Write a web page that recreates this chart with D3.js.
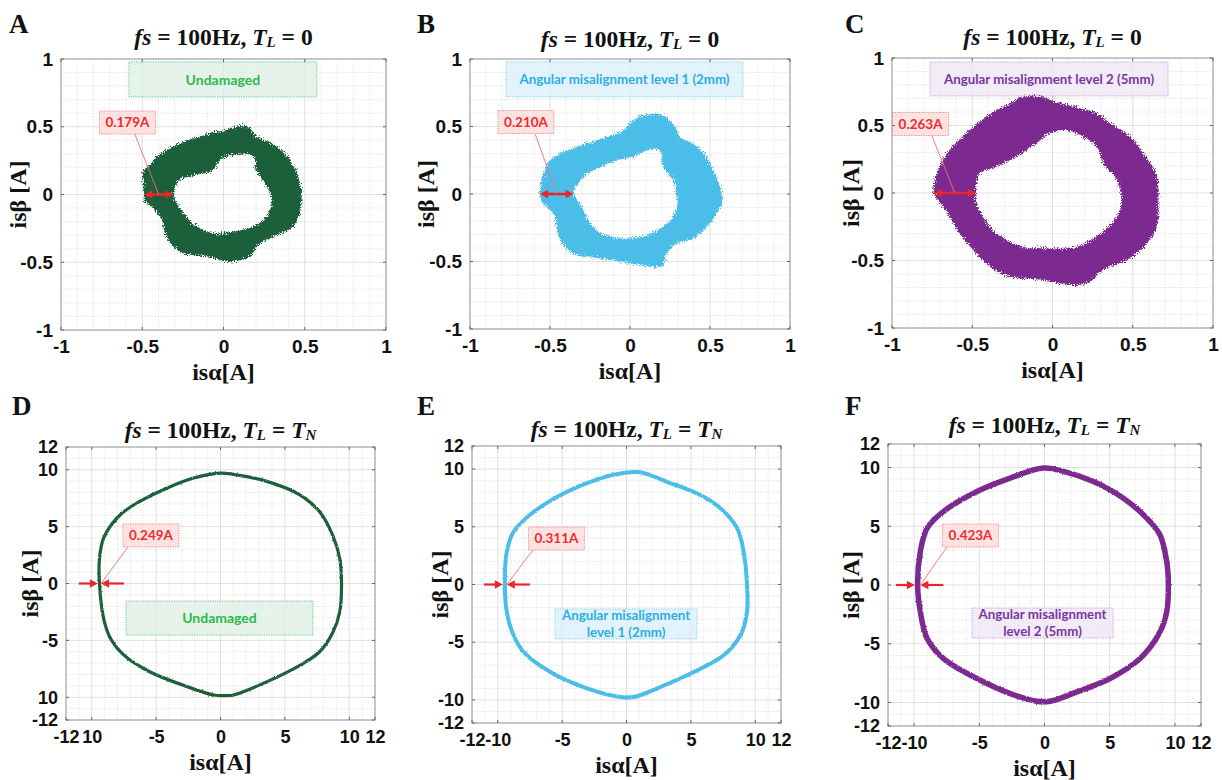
<!DOCTYPE html>
<html>
<head>
<meta charset="utf-8">
<script src="https://cdn.jsdelivr.net/npm/d3@7"></script>
<style>
  html, body { margin: 0; padding: 0; background: #ffffff; }
  svg { display: block; }
  text { white-space: pre; }
</style>
</head>
<body>
<svg id="chart" width="1222" height="780"></svg>
<script>
// ---------- current-locus outlines (isα, isβ) in amperes ----------
// no-load rings: outer and inner edges of the trajectory band
const ringA_outer = [[-0.488,0],[-0.49,-0.04],[-0.432,-0.10],[-0.38,-0.187],[-0.36,-0.286],[-0.309,-0.384],[-0.247,-0.433],[-0.104,-0.458],[0.04,-0.495],[0.163,-0.458],[0.214,-0.372],[0.307,-0.31],[0.43,-0.236],[0.47,-0.138],[0.48,0.01],[0.46,0.133],[0.409,0.256],[0.327,0.355],[0.204,0.429],[0.153,0.498],[0.1,0.507],[0.019,0.478],[-0.145,0.429],[-0.309,0.355],[-0.411,0.281],[-0.452,0.219],[-0.497,0.17],[-0.497,0.108]];
const ringA_inner = [[-0.309,0],[-0.288,-0.064],[-0.247,-0.138],[-0.165,-0.236],[-0.063,-0.286],[0.06,-0.273],[0.184,-0.236],[0.266,-0.163],[0.296,-0.039],[0.266,0.059],[0.2,0.182],[0.184,0.281],[0.03,0.286],[-0.021,0.256],[-0.063,0.182],[-0.206,0.133],[-0.268,0.108]];

const ringB_outer = [[-0.5625,0],[-0.542,-0.072],[-0.479,-0.146],[-0.458,-0.244],[-0.4375,-0.343],[-0.354,-0.442],[-0.25,-0.467],[-0.104,-0.491],[0.02,-0.516],[0.146,-0.541],[0.208,-0.528],[0.229,-0.442],[0.29,-0.368],[0.396,-0.331],[0.479,-0.244],[0.542,-0.146],[0.579,-0.047],[0.5625,0.052],[0.521,0.175],[0.479,0.274],[0.396,0.373],[0.3125,0.422],[0.281,0.496],[0.208,0.583],[0.104,0.59],[0.02,0.546],[-0.042,0.472],[-0.146,0.422],[-0.271,0.373],[-0.396,0.323],[-0.5,0.249],[-0.542,0.15]];
const ringB_inner = [[-0.3525,0],[-0.3125,-0.07],[-0.27,-0.17],[-0.208,-0.27],[-0.104,-0.32],[0,-0.33],[0.125,-0.294],[0.229,-0.22],[0.29,-0.12],[0.29,0],[0.27,0.1],[0.208,0.2],[0.1875,0.323],[0.104,0.323],[0.02,0.274],[-0.083,0.249],[-0.229,0.175],[-0.29,0.126]];

const ringC_outer = [[-0.74,0],[-0.7,-0.074],[-0.64,-0.175],[-0.578,-0.3],[-0.494,-0.422],[-0.39,-0.546],[-0.265,-0.62],[-0.057,-0.644],[0.109,-0.68],[0.213,-0.669],[0.317,-0.57],[0.463,-0.496],[0.567,-0.4],[0.65,-0.25],[0.66,-0.05],[0.65,0.12],[0.567,0.294],[0.484,0.417],[0.36,0.516],[0.276,0.59],[0.13,0.64],[-0.016,0.689],[-0.057,0.714],[-0.182,0.714],[-0.265,0.664],[-0.41,0.565],[-0.515,0.467],[-0.64,0.318],[-0.713,0.17]];
const ringC_inner = [[-0.477,0],[-0.474,-0.077],[-0.432,-0.175],[-0.349,-0.3],[-0.182,-0.4],[-0.057,-0.41],[0.151,-0.4],[0.296,-0.3],[0.4,-0.175],[0.43,-0.05],[0.4,0.096],[0.317,0.22],[0.276,0.343],[0.151,0.442],[0.068,0.467],[-0.016,0.442],[-0.1,0.368],[-0.224,0.27],[-0.349,0.195],[-0.453,0.146]];

// rated-load loops: centre line of the trajectory band
const loopD = [[-9.4,0],[-9.08,-3.07],[-8.56,-4.8],[-7.5,-6.3],[-5.46,-7.78],[-2.88,-8.95],[-0.55,-9.8],[0.5,-9.86],[1.0,-9.8],[3.58,-8.65],[6.16,-7.2],[7.7,-6.0],[8.74,-4.26],[9.26,-2.5],[9.4,-0.13],[9.26,2.2],[8.7,4.27],[7.7,6.3],[6.16,7.8],[3.6,8.98],[1.0,9.6],[0,9.7],[-2.1,9.27],[-4.17,8.38],[-6.76,6.9],[-8.05,5.74],[-9.08,3.98],[-9.4,2.2]];
const loopE = [[-9.45,0],[-9.3,-2.37],[-8.77,-4.4],[-8.0,-5.84],[-5.92,-7.58],[-3.07,-9.0],[-0.48,-9.75],[0.56,-9.75],[2.63,-8.88],[5.22,-7.58],[7.55,-6.13],[8.85,-4.4],[9.36,-2.37],[9.36,-0.06],[9.1,2.83],[8.6,4.86],[7.3,6.6],[5.74,7.75],[3.15,8.9],[1.07,9.72],[0,9.7],[-2.03,9.2],[-4.62,8.04],[-7.2,6.3],[-8.77,4.57],[-9.3,2.83]];
const loopF = [[-9.73,0],[-9.52,-2.27],[-9.0,-4.55],[-7.74,-6.26],[-5.18,-7.96],[-2.63,-9.24],[-0.59,-9.9],[0.43,-9.9],[2.48,-9.1],[5.03,-7.96],[7.33,-6.26],[8.86,-3.98],[9.37,-2.27],[9.5,0],[9.37,2.0],[8.86,4.26],[7.84,5.69],[6.05,7.39],[3.75,8.81],[1.46,9.67],[-0.08,9.95],[-2.63,9.1],[-5.18,7.96],[-7.74,6.26],[-9.0,4.83],[-9.52,2.84]];

// band width measured at isβ = 0 (A)
const bandWidths = [0.179, 0.210, 0.263, 0.249, 0.311, 0.423];

// condition names
const conditions = ["Undamaged", "Angular misalignment level 1 (2mm)", "Angular misalignment level 2 (5mm)"];
const conditionsWrapped = [["Undamaged"], ["Angular misalignment", "level 1 (2mm)"], ["Angular misalignment", "level 2 (5mm)"]];

// axis ticks
const ticksNoLoad = [-1, -0.5, 0, 0.5, 1];
const tickLabelsNoLoad = ["-1", "-0.5", "0", "0.5", "1"];
const ticksLoad = [-12, -10, -5, 0, 5, 10, 12];
const tickLabelsLoad = ["-12", "-10", "-5", "0", "5", "10", "12"];
const tickLabelsLoadD = ["-12", "10", "-5", "0", "5", "10", "12"];

const panelLetters = ["A", "B", "C", "D", "E", "F"];

// ---------- styles ----------
const palette = ["#1d5e3b", "#4cbde9", "#7b2b8f"];
const boxStyle = [
  { text: "#2db84d", fill: "#dcefe3", stroke: "#5fc683" },
  { text: "#2aaee6", fill: "#d9effa", stroke: "#7fd0f2" },
  { text: "#7a35a5", fill: "#ece6f2", stroke: "#c49ddb" }
];
const RED = "#e8262b";

const svg = d3.select("#chart");

const defs = svg.append("defs");
// ragged edge for the noisy no-load bands
const rough = defs.append("filter").attr("id", "rough")
  .attr("x", "-10%").attr("y", "-10%").attr("width", "120%").attr("height", "120%");
rough.append("feTurbulence").attr("type", "fractalNoise").attr("baseFrequency", "0.9")
  .attr("numOctaves", 2).attr("seed", 4).attr("result", "noise");
rough.append("feDisplacementMap").attr("in", "SourceGraphic").attr("in2", "noise")
  .attr("scale", 8).attr("xChannelSelector", "R").attr("yChannelSelector", "G");
// slight fray for the loaded loops
const fray = defs.append("filter").attr("id", "fray")
  .attr("x", "-5%").attr("y", "-5%").attr("width", "110%").attr("height", "110%");
fray.append("feTurbulence").attr("type", "fractalNoise").attr("baseFrequency", "1.2")
  .attr("numOctaves", 1).attr("seed", 7).attr("result", "noise");
fray.append("feDisplacementMap").attr("in", "SourceGraphic").attr("in2", "noise")
  .attr("scale", 2.5).attr("xChannelSelector", "R").attr("yChannelSelector", "G");

// ---------- panel layout ----------
const panels = [
  { frame: { x: 61, y: 59, w: 325, h: 271 }, domain: [-1, 1], minor: 0.1, ticks: ticksNoLoad, xl: tickLabelsNoLoad, yl: tickLabelsNoLoad,
    ring: [ringA_outer, ringA_inner], cond: 0, load: "0", titleY: 45, letter: [9, 33], ylabOff: 35, tickFont: 19,
    tag: { cx: -0.591, cy: 0.531, lead: 0.63 }, box: [-0.582, 0.978, 0.575, 0.72] },
  { frame: { x: 470, y: 59, w: 320, h: 270 }, domain: [-1, 1], minor: 0.1, ticks: ticksNoLoad, xl: tickLabelsNoLoad, yl: tickLabelsNoLoad,
    ring: [ringB_outer, ringB_inner], cond: 1, load: "0", titleY: 47, letter: [417, 33], ylabOff: 36, tickFont: 19,
    tag: { cx: -0.65, cy: 0.533, lead: 0.66 }, box: [-0.775, 0.978, 0.706, 0.719] },
  { frame: { x: 892, y: 58, w: 321, h: 270 }, domain: [-1, 1], minor: 0.1, ticks: ticksNoLoad, xl: tickLabelsNoLoad, yl: tickLabelsNoLoad,
    ring: [ringC_outer, ringC_inner], cond: 2, load: "0", titleY: 45, letter: [845, 33], ylabOff: 33, tickFont: 19,
    tag: { cx: -0.822, cy: 0.511, lead: 0.7 }, box: [-0.763, 0.97, 0.72, 0.719] },
  { frame: { x: 66, y: 447, w: 309, h: 273 }, domain: [-12, 12], minor: 1, ticks: ticksLoad, xl: tickLabelsLoadD, yl: tickLabelsLoadD,
    loop: loopD, cond: 0, load: "N", titleY: 438, letter: [12, 415], ylabOff: 28, tickFont: 18,
    tag: { cx: -5.40, cy: 4.22, lead: 0.09 }, box: [-7.34, -1.54, 7.18, -4.53] },
  { frame: { x: 472, y: 446, w: 309, h: 277 }, domain: [-12, 12], minor: 1, ticks: ticksLoad, xl: tickLabelsLoad, yl: tickLabelsLoad,
    loop: loopE, cond: 1, load: "N", titleY: 437, letter: [417, 415], ylabOff: 24, tickFont: 18,
    tag: { cx: -5.44, cy: 3.98, lead: 0.08 }, box: [-5.55, -2.12, 5.48, -4.72] },
  { frame: { x: 888, y: 444, w: 313, h: 282 }, domain: [-12, 12], minor: 1, ticks: ticksLoad, xl: tickLabelsLoad, yl: tickLabelsLoad,
    loop: loopF, cond: 2, load: "N", titleY: 433, letter: [845, 415], ylabOff: 29, tickFont: 18,
    tag: { cx: -5.67, cy: 4.21, lead: 0.08 }, box: [-5.56, -1.96, 5.25, -4.51] }
];

function arrowHead(g, tipX, tipY, dir, len, hw) {
  g.append("path")
    .attr("d", `M${tipX},${tipY} L${tipX - dir * len},${tipY - hw} L${tipX - dir * len},${tipY + hw} Z`)
    .attr("fill", RED);
}

panels.forEach((p, i) => {
  const f = p.frame;
  const g = svg.append("g");
  const x = d3.scaleLinear().domain(p.domain).range([f.x, f.x + f.w]);
  const y = d3.scaleLinear().domain(p.domain).range([f.y + f.h, f.y]);

  // plot area
  g.append("rect").attr("x", f.x).attr("y", f.y).attr("width", f.w).attr("height", f.h).attr("fill", "#ffffff");

  // minor grid (dotted)
  const minorVals = d3.range(p.domain[0], p.domain[1] + 1e-9, p.minor)
    .map(v => Math.round(v * 1000) / 1000)
    .filter(v => !p.ticks.some(t => Math.abs(t - v) < 1e-9));
  const grid = g.append("g");
  minorVals.forEach(v => {
    grid.append("line").attr("x1", x(v)).attr("x2", x(v)).attr("y1", f.y).attr("y2", f.y + f.h)
      .attr("stroke", "#d6d6d6").attr("stroke-width", 0.8).attr("stroke-dasharray", "1,1.6");
    grid.append("line").attr("y1", y(v)).attr("y2", y(v)).attr("x1", f.x).attr("x2", f.x + f.w)
      .attr("stroke", "#d6d6d6").attr("stroke-width", 0.8).attr("stroke-dasharray", "1,1.6");
  });
  // major grid
  p.ticks.forEach(v => {
    grid.append("line").attr("x1", x(v)).attr("x2", x(v)).attr("y1", f.y).attr("y2", f.y + f.h)
      .attr("stroke", "#e0e0e0").attr("stroke-width", 1);
    grid.append("line").attr("y1", y(v)).attr("y2", y(v)).attr("x1", f.x).attr("x2", f.x + f.w)
      .attr("stroke", "#e0e0e0").attr("stroke-width", 1);
  });

  const color = palette[p.cond];
  const w = bandWidths[i];
  const line = d3.line().x(d => x(d[0])).y(d => y(d[1])).curve(d3.curveCatmullRomClosed.alpha(0.5));

  // condition box
  const bs = boxStyle[p.cond];
  const bx0 = x(p.box[0]), by0 = y(p.box[1]), bx1 = x(p.box[2]), by1 = y(p.box[3]);
  g.append("rect").attr("x", bx0).attr("y", by0).attr("width", bx1 - bx0).attr("height", by1 - by0)
    .attr("fill", bs.fill).attr("fill-opacity", 0.75)
    .attr("stroke", bs.stroke).attr("stroke-width", 1).attr("stroke-dasharray", "1.2,1.2");
  const lines = i < 3 ? [conditions[p.cond]] : conditionsWrapped[p.cond];
  const bcx = (bx0 + bx1) / 2, bcy = (by0 + by1) / 2;
  const lh = 17;
  lines.forEach((t, k) => {
    g.append("text").attr("x", bcx).attr("y", bcy + (k - (lines.length - 1) / 2) * lh)
      .attr("dy", "0.36em").attr("text-anchor", "middle")
      .attr("font-family", "Lato, 'Open Sans', sans-serif").attr("font-weight", 700)
      .attr("font-size", p.cond === 0 ? 14 : 13.3).attr("fill", bs.text).text(t);
  });

  if (p.ring) {
    // no-load ring: filled band between outer and inner edges
    g.append("path").attr("d", line(p.ring[0]) + line(p.ring[1]))
      .attr("fill", color).attr("fill-rule", "evenodd").attr("filter", "url(#rough)");
    // double-headed width marker
    const xa = x(p.ring[0][0][0]), xb = x(p.ring[0][0][0] + w), yy = y(0);
    g.append("line").attr("x1", xa + 5).attr("x2", xb - 5).attr("y1", yy).attr("y2", yy)
      .attr("stroke", RED).attr("stroke-width", 2.6);
    arrowHead(g, xa, yy, -1, 8, 4.2);
    arrowHead(g, xb, yy, 1, 8, 4.2);
    p.markX = (xa + xb) / 2; p.markY = yy;
  } else {
    // rated-load loop: band of width w around the centre line
    const k = x(1) - x(0);
    g.append("path").attr("d", line(p.loop))
      .attr("fill", "none").attr("stroke", color).attr("stroke-width", w * k)
      .attr("stroke-linejoin", "round").attr("filter", "url(#fray)");
    const xc = x(p.loop[0][0]), yy = y(0), half = w * k / 2;
    g.append("line").attr("x1", xc - half - 19).attr("x2", xc - half - 6).attr("y1", yy).attr("y2", yy)
      .attr("stroke", RED).attr("stroke-width", 2.2);
    arrowHead(g, xc - half, yy, 1, 8, 4.2);
    g.append("line").attr("x1", xc + half + 23).attr("x2", xc + half + 6).attr("y1", yy).attr("y2", yy)
      .attr("stroke", RED).attr("stroke-width", 2.2);
    arrowHead(g, xc + half, yy, -1, 8, 4.2);
    p.markX = xc + half; p.markY = yy;
  }

  // width tag with leader line
  const tw = 56, th = 23;
  const tx = x(p.tag.cx) - tw / 2, ty = y(p.tag.cy) - th / 2;
  g.append("line").attr("x1", tx + tw * p.tag.lead).attr("y1", ty + th)
    .attr("x2", p.markX).attr("y2", p.markY)
    .attr("stroke", "#f07070").attr("stroke-width", 0.9);
  g.append("rect").attr("x", tx).attr("y", ty).attr("width", tw).attr("height", th)
    .attr("fill", "#fde2e2").attr("stroke", "#f08a8a").attr("stroke-width", 1).attr("stroke-dasharray", "1.2,1.2");
  g.append("text").attr("x", tx + tw / 2).attr("y", ty + th / 2).attr("dy", "0.36em")
    .attr("text-anchor", "middle").attr("font-family", "Lato, 'Open Sans', sans-serif")
    .attr("font-weight", 700).attr("font-size", 13.5).attr("fill", "#ef2b2b")
    .text(w.toFixed(3) + "A");

  // frame and inner tick marks
  g.append("rect").attr("x", f.x).attr("y", f.y).attr("width", f.w).attr("height", f.h)
    .attr("fill", "none").attr("stroke", "#9d9d9d").attr("stroke-width", 1);
  p.ticks.forEach(v => {
    [[x(v), f.y, x(v), f.y + 3], [x(v), f.y + f.h, x(v), f.y + f.h - 3],
     [f.x, y(v), f.x + 3, y(v)], [f.x + f.w, y(v), f.x + f.w - 3, y(v)]].forEach(s => {
      g.append("line").attr("x1", s[0]).attr("y1", s[1]).attr("x2", s[2]).attr("y2", s[3])
        .attr("stroke", "#666").attr("stroke-width", 1);
    });
  });

  // tick labels
  const xAxis = d3.axisBottom(x).tickValues(p.ticks).tickFormat((d, k) => p.xl[k]).tickSize(0).tickPadding(10);
  const yAxis = d3.axisLeft(y).tickValues(p.ticks).tickFormat((d, k) => p.yl[k]).tickSize(0).tickPadding(8);
  const gx = g.append("g").attr("transform", `translate(0,${f.y + f.h})`).call(xAxis);
  const gy = g.append("g").attr("transform", `translate(${f.x},0)`).call(yAxis);
  [gx, gy].forEach(a => {
    a.select(".domain").remove();
    a.selectAll("text").attr("font-family", "'Liberation Sans', Arial, sans-serif")
      .attr("font-weight", 700).attr("font-size", p.tickFont).attr("fill", "#111");
  });

  // axis titles
  const serif = "'Liberation Serif', 'Times New Roman', serif";
  g.append("text").attr("x", f.x + f.w / 2).attr("y", f.y + f.h + 50).attr("text-anchor", "middle")
    .attr("font-family", serif).attr("font-weight", 700).attr("font-size", 24).attr("fill", "#111")
    .text("isα[A]");
  g.append("text").attr("transform", `translate(${f.x - p.ylabOff},${f.y + f.h / 2}) rotate(-90)`)
    .attr("text-anchor", "middle")
    .attr("font-family", serif).attr("font-weight", 700).attr("font-size", 24).attr("fill", "#111")
    .text("isβ [A]");

  // panel title
  const t = g.append("text").attr("x", f.x + f.w / 2).attr("y", p.titleY).attr("text-anchor", "middle")
    .attr("font-family", serif).attr("font-weight", 700).attr("font-size", 23.5).attr("fill", "#111");
  t.append("tspan").attr("font-style", "italic").text("fs");
  t.append("tspan").text(" = 100Hz, ");
  t.append("tspan").attr("font-style", "italic").text("T");
  t.append("tspan").attr("font-style", "italic").attr("font-size", 15).attr("dy", 2).text("L");
  t.append("tspan").attr("dy", -2).text(" = ");
  if (p.load === "0") {
    t.append("tspan").text("0");
  } else {
    t.append("tspan").attr("font-style", "italic").text("T");
    t.append("tspan").attr("font-style", "italic").attr("font-size", 15).attr("dy", 2).text("N");
  }

  // panel letter
  g.append("text").attr("x", p.letter[0]).attr("y", p.letter[1])
    .attr("font-family", serif).attr("font-weight", 700).attr("font-size", 27).attr("fill", "#111")
    .text(panelLetters[i]);
});
</script>
</body>
</html>
